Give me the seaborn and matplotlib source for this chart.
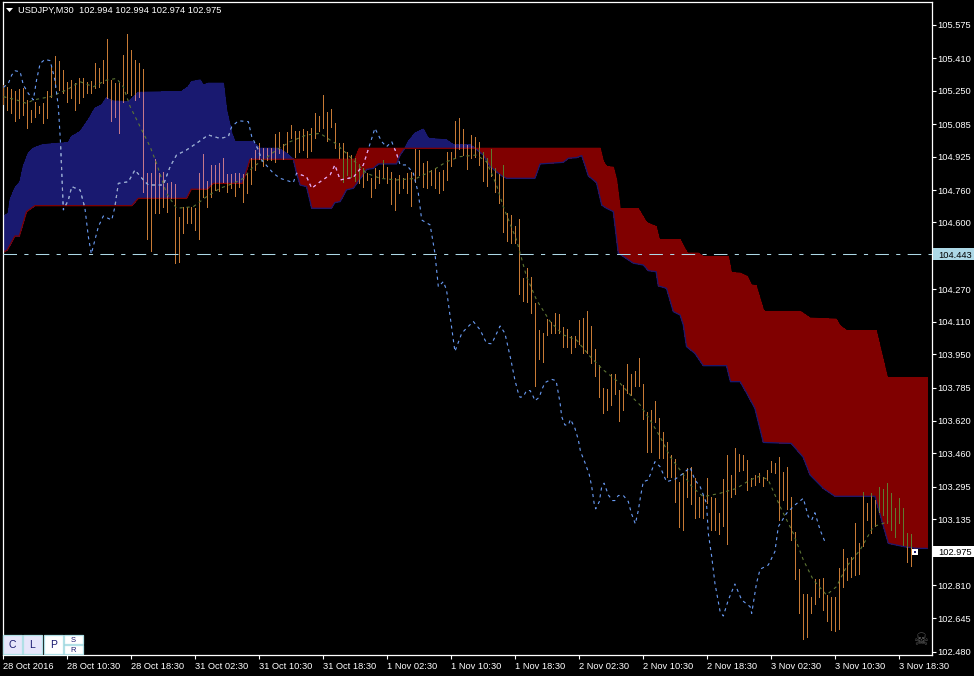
import numpy as np
import seaborn as sns
import matplotlib.pyplot as plt
from matplotlib.patches import Rectangle
from matplotlib.transforms import blended_transform_factory

# price bars, one per 30 minutes
high = [105.278,105.267,105.259,105.251,105.257,105.262,105.205,105.155,105.196,105.175,
        105.188,105.251,105.369,105.422,105.399,105.353,105.295,105.303,105.290,105.311,
        105.311,105.295,105.300,105.385,105.361,105.402,105.504,105.303,105.287,105.287,
        105.427,105.530,105.451,105.402,105.385,105.357,104.843,104.846,104.912,104.843,
        104.851,104.793,104.801,104.790,104.629,104.678,104.678,104.678,104.670,104.843,
        104.936,104.805,104.884,104.884,104.892,104.917,104.839,104.839,104.843,104.846,
        104.839,104.843,104.917,104.958,104.991,104.966,104.966,104.966,105.035,105.048,
        104.987,105.048,105.081,105.053,105.053,105.061,105.053,105.065,105.139,105.127,
        105.229,105.147,105.160,105.090,104.991,104.991,104.950,104.933,104.917,104.889,
        104.867,104.843,104.821,104.867,104.859,104.908,104.872,104.851,104.818,104.835,
        104.818,104.843,104.851,104.961,104.958,104.892,104.905,104.859,104.867,104.851,
        104.859,104.950,104.950,105.103,105.114,105.060,104.983,105.032,105.024,104.999,
        104.950,104.917,104.961,104.867,104.839,104.884,104.645,104.637,104.583,104.616,
        104.325,104.374,104.330,104.201,104.070,104.056,104.122,104.111,104.155,104.148,
        104.083,104.073,104.040,104.040,104.119,104.127,104.163,104.089,103.974,103.897,
        103.785,103.777,103.852,103.852,103.773,103.798,103.902,103.852,103.867,103.930,
        103.802,103.666,103.674,103.720,103.633,103.567,103.518,103.452,103.430,103.320,
        103.361,103.386,103.394,103.337,103.246,103.254,103.337,103.243,103.238,103.164,
        103.333,103.452,103.353,103.485,103.457,103.452,103.427,103.337,103.353,103.361,
        103.345,103.378,103.424,103.411,103.440,103.370,103.391,103.246,103.074,102.888,
        102.766,102.766,102.753,102.838,102.838,102.843,102.761,102.753,102.753,102.893,
        102.986,102.942,102.950,103.115,103.016,103.271,103.213,103.263,103.230,103.292,
        103.282,103.312,103.263,103.189,103.238,103.189,103.065,103.062]
low = [105.185,105.155,105.139,105.102,105.114,105.130,105.065,105.098,105.122,105.139,
       105.089,105.114,105.221,105.270,105.254,105.237,105.196,105.213,105.155,105.188,
       105.221,105.237,105.237,105.262,105.270,105.287,105.213,105.102,105.122,105.043,
       105.196,105.237,105.229,105.205,105.221,104.752,104.517,104.461,104.645,104.648,
       104.678,104.653,104.719,104.402,104.407,104.550,104.599,104.599,104.563,104.520,
       104.727,104.678,104.727,104.760,104.757,104.801,104.752,104.769,104.731,104.777,
       104.699,104.744,104.790,104.859,104.912,104.879,104.908,104.908,104.900,104.941,
       104.912,104.950,105.015,104.925,104.950,104.958,104.922,104.954,105.015,105.053,
       105.065,105.000,105.073,104.966,104.917,104.802,104.835,104.826,104.807,104.793,
       104.777,104.810,104.728,104.769,104.793,104.826,104.797,104.691,104.662,104.747,
       104.769,104.744,104.682,104.802,104.834,104.777,104.769,104.785,104.769,104.744,
       104.761,104.810,104.879,104.917,104.961,104.933,104.862,104.917,104.925,104.884,
       104.807,104.780,104.830,104.752,104.695,104.555,104.510,104.501,104.501,104.247,
       104.214,104.209,104.152,103.793,103.925,103.913,104.045,104.053,104.056,104.053,
       103.987,103.984,103.958,103.987,104.001,103.954,103.954,103.908,103.842,103.740,
       103.661,103.675,103.699,103.754,103.620,103.675,103.757,103.749,103.793,103.793,
       103.628,103.468,103.468,103.616,103.435,103.435,103.345,103.345,103.222,103.098,
       103.082,103.246,103.210,103.139,103.148,103.139,103.217,103.082,103.082,103.062,
       103.101,103.013,103.243,103.259,103.375,103.378,103.279,103.299,103.304,103.320,
       103.299,103.329,103.370,103.365,103.131,103.230,103.184,103.032,102.840,102.670,
       102.544,102.555,102.674,102.716,102.753,102.687,102.634,102.588,102.585,102.592,
       102.802,102.835,102.851,102.860,102.865,103.003,103.131,103.065,103.101,103.172,
       103.156,103.115,103.082,103.049,103.115,103.008,102.925,102.904]

# ichimoku lines, read at their corners
chikou_bar = [0,1.25,2.1,2.9,4.2,5,6.25,7.5,8.3,9.2,10.4,11.7,12.9,13.75,14.3,15,16.25,17.1,19.2,20.4,
              21.25,22,23.75,25,27.1,27.9,28.75,31.25,32.9,35,36.25,40,41.7,43.3,45.8,48.3,51.25,54.2,56.25,57.1,
              58.75,61.25,62.1,63.75,64.6,67.5,69.2,72.5,73.3,75.8,77.1,79.2,81.7,82.9,84.2,87.5,90,91.7,92.9,94.6,
              95.8,97.1,98.3,99.2,100.8,102.5,103.75,104.6,106.7,107.9,108.75,110,110.8,111.7,112.9,114.6,115.8,117.5,119.2,120.8,
              122.1,124.2,125.4,126.9,127.9,128.75,129.2,130,130.8,131.7,132.5,132.9,134,134.6,135.4,137,138.2,138.75,139.2,139.6,
              140.4,141.25,141.8,142.5,142.9,143.75,144.3,145.4,146.5,147.1,147.7,148.1,
              149,149.6,150.2,151.25,152.3,152.9,153.75,155,156.25,157,158,158.75,159.3,160,161.25,162.9,164.2,165.8,167.9,170,
              171.7,172.9,174.2,175.8,176.25,177.1,177.9,179.2,180,181.25,182.9,184.6,186.7,187.1,188.3,189.2,191.25,192.9,193.75,195.8,
              197.9,200,201.25,202.1,202.9,204.2,205.4]
chikou = [105.267,105.287,105.328,105.349,105.344,105.279,105.237,105.205,105.303,105.385,105.405,105.399,105.303,105.172,104.991,104.662,104.711,104.777,104.760,104.670,
          104.530,104.445,104.579,104.632,104.612,104.678,104.793,104.801,104.859,104.810,104.785,104.785,104.876,104.933,104.958,104.991,105.032,105.015,105.024,105.073,
          105.102,105.098,105.024,104.958,104.908,104.843,104.818,104.797,104.843,104.826,104.769,104.801,104.835,104.884,104.810,104.823,104.884,104.991,105.065,104.999,
          104.974,104.999,104.941,104.884,104.884,104.843,104.744,104.612,104.588,104.448,104.283,104.308,104.267,104.135,103.963,104.053,104.078,104.111,104.070,104.004,
          104.001,104.089,104.053,103.921,103.822,103.757,103.737,103.740,103.770,103.770,103.740,103.720,103.737,103.773,103.809,103.826,103.819,103.757,103.707,103.641,
          103.600,103.600,103.628,103.600,103.584,103.527,103.469,103.415,103.354,103.296,103.214,103.186,
          103.222,103.296,103.313,103.255,103.227,103.227,103.252,103.252,103.222,103.165,103.112,103.178,103.247,103.320,103.329,103.419,103.394,103.320,103.332,103.361,
          103.391,103.329,103.296,103.213,103.065,102.950,102.819,102.679,102.657,102.736,102.815,102.736,102.703,102.670,102.819,102.888,102.909,102.975,103.098,103.164,
          103.205,103.238,103.148,103.131,103.167,103.082,103.024]

tenkan_bar = [0,3.3,5.8,7.5,11.7,15.8,19.2,22.5,25.8,28.3,30,31.7,34.2,36.7,38.3,40.8,43.3,47.5,50.8,54.2,
              57.5,60,62.5,65,68.3,71.7,75.8,79.2,81.7,82.5,85.8,88.3,90.8,94.2,98.3,103.3,107.5,110.8,114.2,118.3,
              120.8,123.3,125,128.3,130.8,133.3,136.7,140,143.3,146.7,150,154.2,157.5,159.2,161.7,164.2,166.7,169.2,172.1,175,
              179.2,183.3,186.7,189.2,191.25,194.2,197.5,200,202.5,205.8,208.3,210.8,214.2,217.5,221.25]
tenkan = [105.221,105.205,105.188,105.205,105.221,105.254,105.295,105.270,105.303,105.311,105.270,105.172,105.073,104.974,104.892,104.744,104.670,104.678,104.727,104.769,
          104.793,104.818,104.876,104.908,104.958,104.999,105.032,105.040,105.007,104.999,104.941,104.892,104.843,104.818,104.810,104.818,104.859,104.900,104.925,104.933,
          104.900,104.785,104.678,104.514,104.333,104.218,104.111,104.045,104.020,103.938,103.872,103.806,103.732,103.699,103.625,103.542,103.444,103.378,103.296,103.246,
          103.263,103.287,103.329,103.348,103.329,103.197,103.065,102.934,102.835,102.761,102.802,102.901,102.983,103.098,103.123]

span_a_bar = [0,1.25,1.7,2.9,4.2,5,6.25,7.5,9.6,11.7,16.25,17.1,19.2,21.25,22.9,24.6,25.8,27.1,31.25,33.75,
              44.6,46.25,47.1,49.2,50,51.25,55,55.8,57.1,57.9,62.1,63.3,64,68.75,70.8,72.5,73.3,74.2,75.8,77.1,
              82,82.9,84.2,85.8,87.5,89.6,90.8,92.5,93.75,98.3,99.2,100.4,101.25,102.9,105,106.25,110.8,112.5,116.7,118,
              120,121.7,124.6,125.8,132.9,134.2,140,141.25,143.3,144.6,145.4,146.25,148.3,149.6,150.8,152.5,153.75,155,157.5,160,
              161.25,163.2,163.75,165.8,167.5,169.2,170,170.8,172.9,175,180.8,181.8,184.2,185.8,187.9,190,197,200,201.7,205,
              207.9,217.9,221.25,225,228.3,231]
span_a = [104.629,104.645,104.711,104.769,104.801,104.876,104.941,104.966,104.982,104.987,104.994,105.024,105.048,105.106,105.163,105.180,105.216,105.200,105.196,105.242,
          105.246,105.270,105.295,105.303,105.278,105.287,105.287,105.155,105.040,104.999,104.999,104.982,104.966,104.966,104.941,104.912,104.843,104.785,104.777,104.670,
          104.670,104.698,104.703,104.761,104.769,104.826,104.862,104.867,104.889,104.889,104.933,104.966,104.999,105.040,105.060,105.015,105.007,104.983,104.983,104.966,
          104.933,104.876,104.830,104.818,104.818,104.889,104.897,104.917,104.920,104.930,104.884,104.830,104.797,104.686,104.670,104.654,104.448,104.432,104.399,104.390,
          104.362,104.357,104.287,104.275,104.160,104.143,104.094,103.987,103.954,103.893,103.893,103.814,103.814,103.759,103.682,103.514,103.509,103.440,103.353,103.287,
          103.248,103.248,103.016,103.000,102.991,102.991]

span_b_bar = [0,1,2.9,4,5.8,7.9,32.1,33.75,45.8,47,51,52.5,59.8,61.7,72.5,87.9,89,100.4,118,149.2,
              150,150.8,152.5,153.3,154.2,158.75,160.8,163.2,164,169.2,171,173.75,175,181.25,182,184.2,186,187,188.2,190,
              190.4,199.3,201.7,208.2,209.2,210.8,218.2,221,231]
span_b = [104.453,104.464,104.533,104.533,104.653,104.683,104.683,104.719,104.719,104.764,104.764,104.793,104.793,104.912,104.912,104.912,104.966,104.966,104.966,104.966,
          104.900,104.876,104.872,104.810,104.667,104.667,104.599,104.579,104.514,104.514,104.448,104.448,104.431,104.431,104.352,104.349,104.333,104.291,104.287,104.168,
          104.160,104.160,104.127,104.122,104.089,104.066,104.066,103.834,103.834]

blue_spans = [(0, 72.5), (100.4, 118)]
red_spans = [(72.5, 100.4), (118, 231)]

last_bar = 228
last_price = 102.973
bid_price = 102.975
ref_price = 104.443

y_ticks = [105.575,105.410,105.250,105.085,104.925,104.760,104.600,104.270,104.110,103.950,
           103.785,103.620,103.460,103.295,103.135,102.810,102.645,102.480]
x_tick_bars = [0,16,32,48,64,80,96,112,128,144,160,176,192,208,224]
x_tick_labels = ['28 Oct 2016','28 Oct 10:30','28 Oct 18:30','31 Oct 02:30','31 Oct 10:30','31 Oct 18:30',
                 '1 Nov 02:30','1 Nov 10:30','1 Nov 18:30','2 Nov 02:30','2 Nov 10:30','2 Nov 18:30',
                 '3 Nov 02:30','3 Nov 10:30','3 Nov 18:30']

BAR = '#c77a35'
W, H = 974, 676
TXT = 6.7

sns.set_theme(style='dark', rc={'figure.facecolor': 'black', 'axes.facecolor': 'black',
                                'axes.edgecolor': 'white', 'axes.linewidth': 0.9,
                                'text.color': 'white', 'xtick.color': 'white', 'ytick.color': 'white'})
plt.rcParams['font.family'] = ['Liberation Sans', 'DejaVu Sans']

fig = plt.figure(figsize=(W / 100, H / 100), dpi=100)
ax = fig.add_axes([2.7 / W, 1 - 655.3 / H, 929 / W, 653.6 / H])

bars = np.arange(len(high))
a_bar, a_val = np.array(span_a_bar), np.array(span_a)
b_bar, b_val = np.array(span_b_bar), np.array(span_b)


def cloud_piece(start, end, color):
    # polygon between the two spans from one crossing to the next
    a = (a_bar >= start) & (a_bar <= end)
    b = (b_bar >= start) & (b_bar <= end)
    xs = np.r_[a_bar[a], b_bar[b][::-1]]
    ys = np.r_[a_val[a], b_val[b][::-1]]
    return ax.fill(xs, ys, color=color, lw=0, antialiased=False, zorder=1)[0]


def dashed(x, y, color, zorder, clip=None):
    sns.lineplot(x=x, y=y, color=color, linewidth=0.8, linestyle=(0, (2.8, 3.4)),
                 errorbar=None, ax=ax, zorder=zorder)
    if clip is not None:
        ax.lines[-1].set_clip_path(clip)


blue_polys = [cloud_piece(s, e, '#191970') for s, e in blue_spans]
red_polys = [cloud_piece(s, e, '#800000') for s, e in red_spans]

sns.lineplot(x=span_a_bar, y=span_a, color='#191970', linewidth=0.9, errorbar=None, ax=ax, zorder=2)
sns.lineplot(x=span_b_bar, y=span_b, color='#800000', linewidth=0.9, errorbar=None, ax=ax, zorder=2)

ax.vlines(bars, low, high, color=BAR, lw=0.72, antialiased=False, zorder=3)
dashed(tenkan_bar, tenkan, '#5d7533', 4)
dashed(chikou_bar, chikou, '#6a9cf5', 4)

# the terminal draws bars and lines over the cloud in a mixed colour
for poly in blue_polys:
    ax.vlines(bars, low, high, color='#c4788c', lw=0.72, antialiased=False, zorder=3.5).set_clip_path(poly)
    dashed(chikou_bar, chikou, '#a2a8c0', 4.5, poly)
for poly in red_polys:
    ax.vlines(bars, low, high, color='#5f7a2e', lw=0.72, antialiased=False, zorder=3.5).set_clip_path(poly)
    dashed(chikou_bar, chikou, '#ff9fe0', 4.5, poly)

ax.axhline(ref_price, color='#add8e6', lw=0.75, linestyle=(0, (13, 7, 4, 7)), zorder=5)
ax.scatter([last_bar], [last_price], marker='s', s=17, color='white', lw=0, zorder=6)
ax.scatter([last_bar], [last_price], marker='s', s=3, color='#191970', lw=0, zorder=7)

ax.set_xlim(-0.16, 232.1)
ax.set_ylim(102.463, 105.690)
ax.set_xlabel('')
ax.set_ylabel('')
ax.grid(False)
for side in ax.spines.values():
    side.set_visible(True)
    side.set_color('white')

ax.yaxis.tick_right()
ax.set_yticks(y_ticks + [bid_price])
ax.set_yticklabels(['%.3f' % v for v in y_ticks] + [''], fontsize=TXT, color='white')
ax.tick_params(axis='y', length=3, width=0.8, pad=0.8, right=True, left=False)
ax.set_xticks(x_tick_bars)
ax.set_xticklabels(x_tick_labels, fontsize=TXT, color='white', ha='left')
ax.tick_params(axis='x', length=3, width=0.8, pad=1.5, bottom=True)

# price tags on the right scale
tag = blended_transform_factory(ax.transAxes, ax.transData)
for price, bg in ((ref_price, '#add8e6'), (bid_price, 'white')):
    ax.add_patch(Rectangle((1.001, price - 0.029), 0.05, 0.058, transform=tag, color=bg, lw=0,
                           clip_on=False, zorder=8))
    ax.text(1.0068, price, '%.3f' % price, transform=tag, color='black', fontsize=TXT,
            va='center_baseline', ha='left', zorder=9)

# header line
fig.text(18 / W, 1 - 10.5 / H, 'USDJPY,M30  102.994 102.994 102.974 102.975', color='white',
         fontsize=TXT, va='center', ha='left')
fig.add_artist(plt.Polygon([[6 / W, 1 - 8 / H], [13 / W, 1 - 8 / H], [9.5 / W, 1 - 12 / H]],
                           transform=fig.transFigure, color='white', lw=0))

# chart buttons in the lower left corner
for left, top, width, height, label, bg in ((3, 635, 19, 19, 'C', '#e6e6fa'), (23, 635, 19, 19, 'L', '#e6e6fa'),
                                            (44, 635, 19, 19, 'P', 'white'), (64, 635, 19, 9, 'S', 'white'),
                                            (64, 645, 19, 9, 'R', 'white')):
    fig.add_artist(Rectangle((left / W, 1 - (top + height) / H), width / W, height / H, transform=fig.transFigure,
                             facecolor=bg, edgecolor='#b0e0e6', lw=0.9))
    fig.text((left + width / 2) / W, 1 - (top + height / 2) / H, label, color='#191970',
             fontsize=7.5 if height > 10 else 5.5, ha='center', va='center_baseline')

fig.text(921 / W, 1 - 640 / H, '\u2620', color='#5c5c5c', fontsize=12, ha='center', va='center',
         family='DejaVu Sans')

fig.savefig('out.png', dpi=100, facecolor='black')
